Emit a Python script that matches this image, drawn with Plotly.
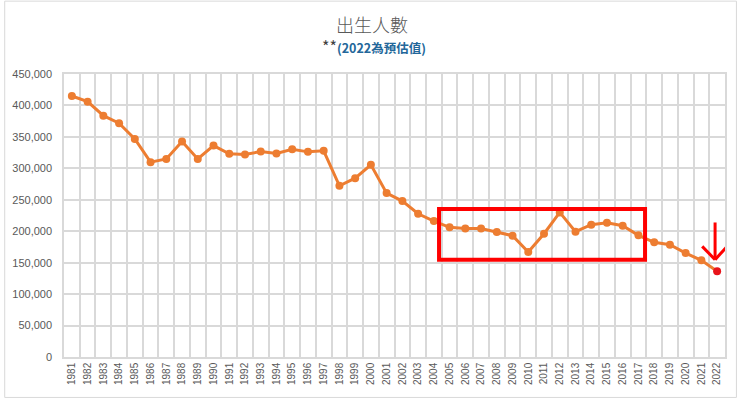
import plotly.graph_objects as go

years = [str(y) for y in range(1981, 2023)]
births = [
    415000, 406000, 383800, 371700, 346800, 309800, 315000, 342600, 315000, 336200,
    323000, 322000, 326700, 323500, 330400, 326200, 327800, 272200, 284400, 305600,
    260600, 247900, 227800, 216200, 206200, 204400, 204400, 198700, 192900, 166900,
    196000, 229900, 199200, 210300, 213500, 208700, 193400, 182300, 178600, 165300,
    153700, 136200,
]
estimate_year = "2022"

title_text = "出生人數"
subtitle_note = "(2022為預估值)"

y_ticks = list(range(0, 450001, 50000))

orange = "#ED7D31"
red = "#E8141B"
grid = "#D9D9D9"

marker_colors = [red if y == estimate_year else orange for y in years]

fig = go.Figure()
fig.add_trace(go.Scatter(
    x=years, y=births, mode="lines+markers",
    line=dict(color=orange, width=3),
    marker=dict(color=marker_colors, size=8),
    showlegend=False,
))

# highlight box (2005-2017) and arrow to 2022
box = dict(x0=23.33, x1=36.42, y0=154800, y1=235200)
fig.add_shape(type="rect", xref="x", yref="y", **box,
              line=dict(color="#FF0000", width=4), fillcolor="rgba(0,0,0,0)")
arrow_x = 40.87
fig.add_shape(type="line", xref="x", yref="y", x0=arrow_x, x1=arrow_x, y0=213900, y1=156000,
              line=dict(color="#FF0000", width=3))
fig.add_shape(type="line", xref="x", yref="y", x0=40.05, x1=arrow_x, y0=175900, y1=154800,
              line=dict(color="#FF0000", width=3))
fig.add_shape(type="line", xref="x", yref="y", x0=41.63, x1=arrow_x, y0=175900, y1=154800,
              line=dict(color="#FF0000", width=3))

# figure border
fig.add_shape(type="rect", xref="paper", yref="paper", x0=-0.0897, x1=1.0173, y0=-0.1429, y1=1.2575,
              line=dict(color="#D9D9D9", width=1), layer="below")

fig.add_annotation(text=title_text, xref="paper", yref="paper", x=0.4657, y=1.176,
                   showarrow=False, xanchor="center", yanchor="middle",
                   font=dict(family="Noto Sans CJK TC", size=18, color="#595959", weight=300))
fig.add_annotation(text="<span style='font-size:16px'>**</span><b><span style='color:#23679A'>" + subtitle_note + "</span></b>",
                   xref="paper", yref="paper", x=0.469, y=1.0988,
                   showarrow=False, xanchor="center", yanchor="middle",
                   font=dict(family="Noto Sans CJK TC", size=12.5, color="#404040"))

fig.update_layout(
    width=740, height=399,
    margin=dict(l=62, r=14.5, t=74, b=41.5),
    paper_bgcolor="white", plot_bgcolor="white",
    font=dict(family="Liberation Sans, Arial", color="#595959"),
    xaxis=dict(
        type="category", tickson="boundaries", tickangle=-90,
        showgrid=True, gridcolor=grid, gridwidth=1.5,
        showline=True, linecolor=grid, linewidth=1.5, mirror=True,
        ticks="", tickfont=dict(size=10, color="#595959"),
        range=[-0.5, len(years) - 0.5],
    ),
    yaxis=dict(
        range=[0, 450000], tickvals=y_ticks, tickformat=",",
        showgrid=True, gridcolor=grid, gridwidth=1.5,
        showline=True, linecolor=grid, linewidth=1.5, mirror=True,
        ticks="", ticklabelstandoff=8, zeroline=False,
        tickfont=dict(size=11, color="#595959"),
    ),
)

fig.write_html("out.html", config={"displayModeBar": False},
               post_script="document.body.style.margin='0';")
